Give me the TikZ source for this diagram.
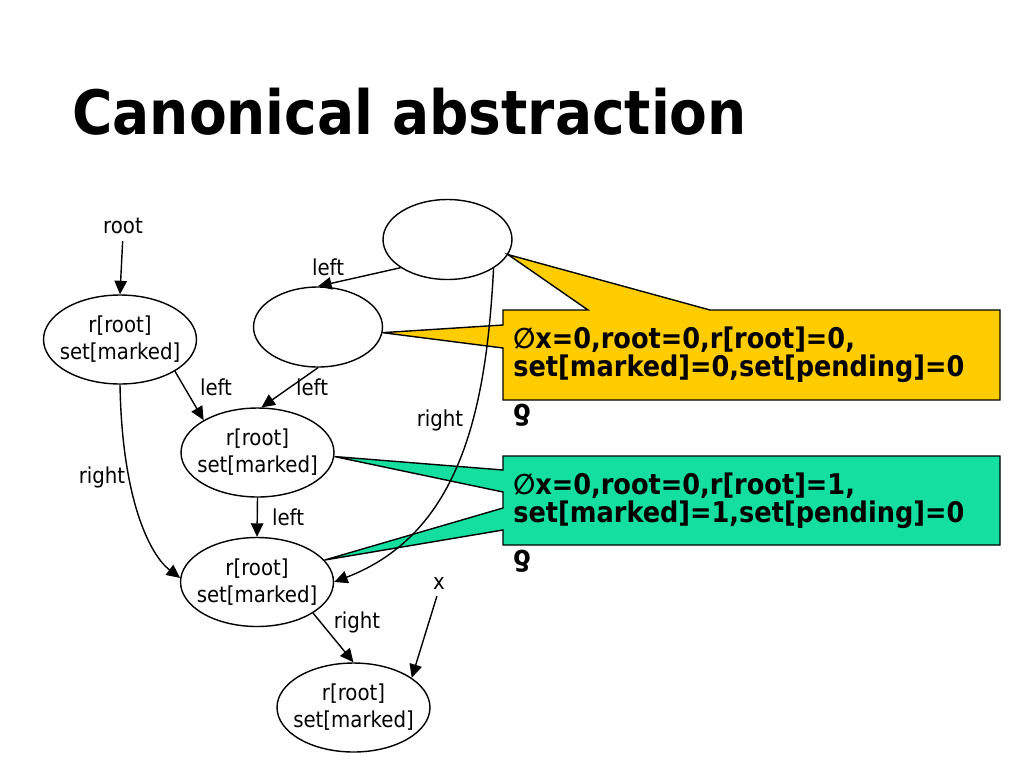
\documentclass[tikz,border=0pt]{standalone}
\usepackage{fontspec}
\setmainfont{DejaVu Sans Condensed}
\usetikzlibrary{shapes.geometric, arrows.meta}
\definecolor{calloutyellow}{RGB}{255,204,0}
\definecolor{calloutgreen}{RGB}{20,222,160}
\tikzstyle{heapnode} = [ellipse, draw=black, line width=0.8pt, minimum width=3.06cm, minimum height=1.78cm, inner xsep=-4.5pt, inner ysep=0pt, align=center, font=\fontsize{12.5}{15.3}\selectfont]
\tikzstyle{emptynode} = [ellipse, draw=black, line width=0.8pt, minimum width=2.58cm, minimum height=1.6cm, inner sep=0pt]
\tikzstyle{lbl} = [inner sep=0pt, font=\fontsize{12.5}{15.3}\selectfont]
\tikzstyle{arrow} = [line width=0.8pt, -{Triangle[length=0.27cm, width=0.25cm]}]
\tikzstyle{callout} = [draw=black, line width=0.8pt]
\tikzstyle{callouttext} = [anchor=north west, inner sep=0pt, align=left, font=\fontsize{16.2}{15.9}\selectfont\bfseries]

\begin{document}
\begin{tikzpicture}[x=0.02cm, y=-0.02cm]
				\useasboundingbox (0,0) rectangle (1024,768);
				
				% Title
				\node (title) [anchor=base west, inner sep=0pt, font=\fontsize{34.8}{40}\selectfont\bfseries] at (72,134) {Canonical abstraction};
				
				% Heap nodes
				\node (topnode) [emptynode] at (447.5,239.5) {};
				\node (midempty) [emptynode] at (318,327) {};
				\node (lnode) [heapnode] at (120,339.5) {r[root]\\set[marked]};
				\node (mnode) [heapnode] at (257.5,452.5) {r[root]\\set[marked]};
				\node (lower) [heapnode] at (257,582) {r[root]\\set[marked]};
				\node (bottom) [heapnode] at (353.5,707.5) {r[root]\\set[marked]};
				
				% Variables
				\node (rootvar) [lbl] at (123,226) {root};
				\node (xvar) [lbl] at (439,583) {x};
				
				% Callouts
				\draw [callout, fill=calloutyellow] (503,310) -- (588,310) -- (topnode.-14) -- (710,310) -- (1000,310) -- (1000,400) -- (503,400) -- (503,348) -- (midempty.-5) -- (503,325) -- cycle;
				\draw [callout, fill=calloutgreen] (503,456) -- (1000,456) -- (1000,545) -- (503,545) -- (503,530) -- (lower.18) -- (503,508) -- (503,492) -- (mnode.-3) -- (503,470) -- cycle;
				\node (yellowtext) [callouttext] at (513,327) {∅x=0,root=0,r[root]=0,\\set[marked]=0,set[pending]=0\\\rotatebox{180}{δ}};
				\node (greentext) [callouttext] at (513,473) {∅x=0,root=0,r[root]=1,\\set[marked]=1,set[pending]=0\\\rotatebox{180}{δ}};
				
				% Arrows
				\draw [arrow, shorten <=4pt] (rootvar.south) -- (lnode.north);
				\draw [arrow] (topnode.211) -- (midempty.north);
				\draw [arrow] (lnode.-30) -- (mnode.149);
				\draw [arrow] (midempty.south) -- (mnode.85);
				\draw [arrow] (lnode.south) .. controls (122,500) and (150,555) .. (lower.177);
				\draw [arrow] (topnode.-32) to[out=-93, in=21] (lower.east);
				\draw [arrow] (mnode.south) -- (lower.north);
				\draw [arrow] (lower.-29) -- (bottom.north);
				\draw [arrow, shorten <=4pt] (xvar.south) -- (bottom.27);
				
				% Labels
				\node (l1) [lbl] at (328,267) {left};
				\node (l2) [lbl] at (216,387) {left};
				\node (l3) [lbl] at (312,387) {left};
				\node (r1) [lbl] at (102,477) {right};
				\node (r2) [lbl] at (440,420) {right};
				\node (l4) [lbl] at (288,517) {left};
				\node (r3) [lbl] at (357,622) {right};
				
			\end{tikzpicture}
\end{document}
